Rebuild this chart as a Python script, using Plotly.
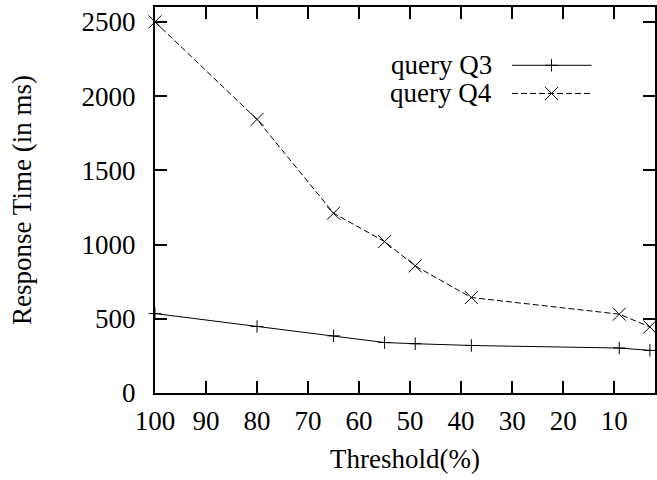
import plotly.graph_objects as go

# ---- data ----
threshold = [100, 80, 65, 55, 49, 38, 9, 3]
q3_ms = [535, 448, 385, 340, 332, 320, 303, 287]
q4_ms = [2500, 1843, 1211, 1020, 856, 643, 531, 445]

x_ticks = [100, 90, 80, 70, 60, 50, 40, 30, 20, 10]
y_ticks = [0, 500, 1000, 1500, 2000, 2500]

series_names = ["query Q3", "query Q4"]

FONT = "Liberation Serif, Times New Roman, serif"
FS = 27

fig = go.Figure()

fig.add_trace(go.Scatter(
    x=threshold, y=q3_ms, mode="lines+markers", name=series_names[0],
    line=dict(color="black", width=1),
    marker=dict(symbol="cross-thin", size=9, line=dict(color="black", width=1)),
    cliponaxis=False, showlegend=False,
))
fig.add_trace(go.Scatter(
    x=threshold, y=q4_ms, mode="lines+markers", name=series_names[1],
    line=dict(color="black", width=1, dash="6px,3px"),
    marker=dict(symbol="x-thin", size=13, line=dict(color="black", width=1)),
    cliponaxis=False, showlegend=False,
))

# ---- gnuplot-style key: text then sample line (overlay axes in fractions of the plot) ----
key_x = [0.714, 0.793, 0.873]
key_rows = [0.849, 0.776]
styles = [("solid", "cross-thin", 9), ("6px,3px", "x-thin", 13)]
for (dash, sym, sz), yy in zip(styles, key_rows):
    fig.add_trace(go.Scatter(
        x=key_x, y=[yy] * 3, xaxis="x2", yaxis="y2", mode="lines",
        line=dict(color="black", width=1, dash=dash),
        showlegend=False, hoverinfo="skip",
    ))
    fig.add_trace(go.Scatter(
        x=[key_x[1]], y=[yy], xaxis="x2", yaxis="y2", mode="markers",
        marker=dict(symbol=sym, size=sz, line=dict(color="black", width=1)),
        showlegend=False, hoverinfo="skip",
    ))

for name, yy in zip(series_names, key_rows):
    fig.add_annotation(
        x=0.677, y=yy, xref="x2", yref="y2", text=name, showarrow=False,
        xanchor="right", yanchor="middle", font=dict(family=FONT, size=FS, color="black"),
    )

axis_common = dict(
    showgrid=False, zeroline=False, showline=True, linecolor="black", linewidth=2,
    ticks="inside", ticklen=12, tickwidth=2, tickcolor="black", mirror="ticks",
    tickfont=dict(family=FONT, size=FS, color="black"),
)

fig.update_layout(
    width=657, height=480,
    margin=dict(l=155, r=0, t=7, b=87),
    paper_bgcolor="white", plot_bgcolor="white",
    showlegend=False,
    xaxis=dict(
        range=[100, 2], tickvals=x_ticks, ticktext=[str(v) for v in x_ticks],
        ticklabelstandoff=3,
        title=dict(text="Threshold(%)", font=dict(family=FONT, size=FS, color="black"), standoff=14),
        **axis_common,
    ),
    yaxis=dict(
        range=[0, 2600], tickvals=y_ticks, ticktext=[str(v) for v in y_ticks],
        ticklabelstandoff=12,
        title=dict(text="Response Time (in ms)", font=dict(family=FONT, size=FS, color="black"), standoff=42),
        **axis_common,
    ),
    xaxis2=dict(overlaying="x", range=[0, 1], visible=False, fixedrange=True),
    yaxis2=dict(overlaying="y", range=[0, 1], visible=False, fixedrange=True),
)

fig.write_html("out.html")
